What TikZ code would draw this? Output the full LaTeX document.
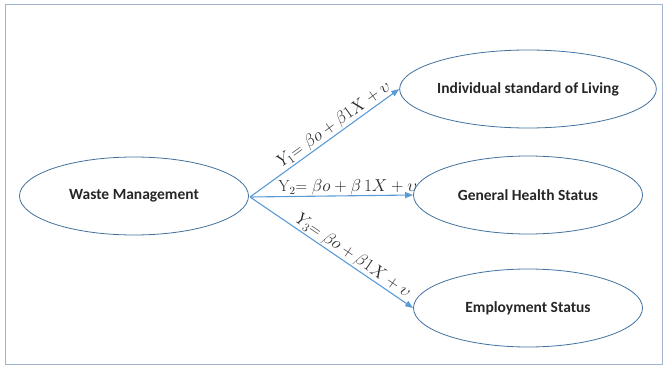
\documentclass[tikz,border=0pt]{standalone}
\usepackage{fontspec}
\newfontfamily\carlito{Carlito}
\usetikzlibrary{arrows.meta,shapes.geometric}
\definecolor{ellcol}{RGB}{65,113,156}
\definecolor{arrcol}{RGB}{91,155,213}
\definecolor{framecol}{RGB}{160,180,205}
\tikzset{
  ell/.style={draw=ellcol, line width=0.8pt, ellipse, minimum width=229pt, minimum height=78pt, inner sep=0pt, font=\carlito\bfseries\fontsize{15.5}{18}\selectfont, text=black!85},
  conn/.style={draw=arrcol, line width=1.1pt, -{Triangle[length=8pt,width=6pt]}},
  eq/.style={font=\fontsize{16.5}{19}\selectfont, inner sep=1pt, text=black!85}
}
\begin{document}
\begin{tikzpicture}[x=1pt,y=-1pt]
\useasboundingbox (0,0) rectangle (665,369);
\draw[framecol, line width=1pt] (5,5) rectangle (662,364);
\node[ell] (wm) at (134,196) {Waste Management};
\node[ell] (isl) at (528,89) {Individual standard of Living};
\node[ell] (ghs) at (528,195) {General Health Status};
\node[ell] (es) at (528,308) {Employment Status};
\coordinate (src) at (250,197);
\draw[conn] (src) -- (isl.west) node[eq, sloped, above, pos=0.6] {$Y_1$= $\beta o+\beta 1X+\upsilon$};
\draw[conn] (src) -- (ghs.west) node[eq, above, pos=0.6, inner sep=0pt, font=\fontsize{16}{18}\selectfont] {$\mathrm{Y}_2$= $\beta o+\beta\,1X+\upsilon$};
\draw[conn] (src) -- (es.west) node[eq, sloped, above, pos=0.6] {$Y_3$= $\beta o+\beta 1X+\upsilon$};
\end{tikzpicture}
\end{document}
